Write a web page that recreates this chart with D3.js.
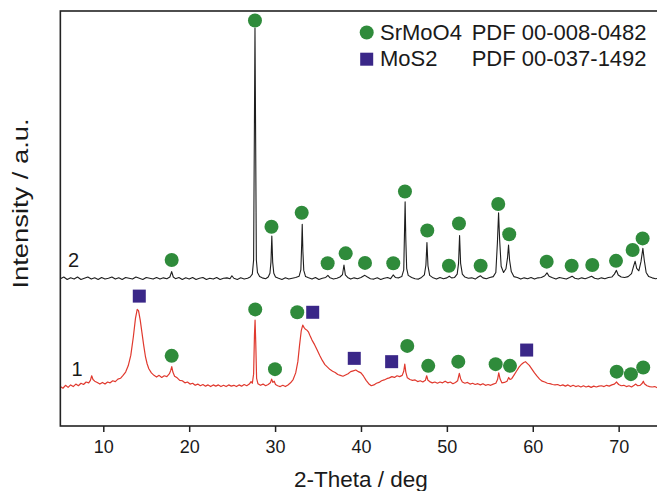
<!DOCTYPE html>
<html>
<head>
<meta charset="utf-8">
<script src="https://cdn.jsdelivr.net/npm/d3@7"></script>
<style>
  html, body { margin: 0; padding: 0; background: #fff; }
  svg { display: block; }
  text { font-family: "Liberation Sans", Arial, Helvetica, sans-serif; fill: #1a1a1a; }
</style>
</head>
<body>
<svg id="chart" width="657" height="491"></svg>
<script>
// XRD patterns: [2-theta (deg), intensity (a.u.)]
const pattern2 = [
  [5.0,35.5],[5.4,35.9],[5.8,35.3],[6.2,35.7],[6.6,35.4],[7.0,35.9],[7.4,35.3],[7.8,35.6],[8.2,35.9],[8.6,35.4],
  [9.0,35.7],[9.4,35.3],[9.8,35.8],[10.2,35.4],[10.6,35.6],[11.0,35.9],[11.4,35.4],[11.8,35.7],[12.2,35.3],[12.6,35.8],
  [13.0,35.6],[13.4,35.4],[13.8,35.9],[14.2,35.6],[14.6,35.3],[15.0,35.8],[15.4,35.6],[15.8,35.4],[16.2,35.8],[16.6,35.4],
  [17.0,35.7],[17.4,35.5],[17.75,35.9],[17.96,37.2],[18.15,35.9],[18.4,35.5],[18.8,35.8],[19.2,35.3],[19.6,35.7],[20.0,35.4],
  [20.4,35.8],[20.8,35.3],[21.2,35.6],[21.6,35.8],[22.0,35.3],[22.4,35.6],[22.8,35.4],[23.2,35.8],[23.6,35.3],[24.0,35.6],
  [24.4,35.7],[24.75,35.5],[24.97,36.2],[25.2,35.6],[25.6,35.3],[26.0,35.7],[26.4,35.4],[26.8,35.6],[27.1,35.9],[27.35,36.6],
  [27.5,40.0],[27.6,75.0],[27.66,95.9],[27.72,75.0],[27.82,40.0],[27.95,37.0],[28.2,36.0],[28.5,35.7],[28.9,35.5],[29.2,35.9],
  [29.4,36.8],[29.52,39.5],[29.62,45.8],[29.72,39.5],[29.85,36.8],[30.05,35.9],[30.4,35.6],[30.8,35.3],[31.2,35.7],[31.6,35.4],
  [32.0,35.6],[32.4,35.8],[32.8,36.1],[33.0,37.6],[33.1,44.0],[33.16,48.6],[33.24,42.0],[33.34,37.5],[33.55,36.0],[33.9,35.7],
  [34.3,35.4],[34.7,35.8],[35.1,35.3],[35.5,35.6],[35.9,35.8],[36.15,36.3],[36.4,35.7],[36.8,35.4],[37.2,35.6],[37.55,35.9],
  [37.85,36.5],[38.02,38.8],[38.18,36.4],[38.45,35.8],[38.8,35.4],[39.2,35.7],[39.6,35.5],[40.0,35.8],[40.45,36.3],[40.75,35.9],
  [41.1,35.5],[41.5,35.4],[41.9,35.7],[42.3,35.3],[42.7,35.6],[43.1,35.8],[43.45,35.5],[43.75,36.4],[44.0,35.8],[44.4,35.7],
  [44.75,36.0],[44.98,37.6],[45.08,48.0],[45.14,54.0],[45.22,45.0],[45.32,38.0],[45.5,36.3],[45.9,35.8],[46.3,35.5],[46.7,35.4],
  [47.05,35.8],[47.38,36.4],[47.56,38.8],[47.68,44.2],[47.8,38.6],[48.0,36.3],[48.4,35.7],[48.8,35.4],[49.2,35.8],[49.6,35.5],
  [50.0,35.7],[50.28,36.1],[50.55,35.7],[50.9,35.8],[51.2,36.6],[51.36,39.2],[51.48,45.9],[51.6,39.2],[51.8,36.6],[52.1,35.9],
  [52.5,35.6],[52.9,35.7],[53.3,35.4],[53.65,35.9],[53.9,36.2],[54.2,35.7],[54.6,35.5],[55.0,35.8],[55.4,36.0],[55.7,37.0],
  [55.88,44.0],[56.02,51.4],[56.14,45.0],[56.32,38.5],[56.6,37.0],[56.88,37.9],[57.06,40.5],[57.18,43.6],[57.3,40.0],[57.5,37.2],
  [57.8,36.0],[58.2,35.8],[58.6,35.4],[59.0,35.7],[59.4,35.5],[59.8,35.8],[60.2,35.4],[60.6,35.7],[61.0,35.8],[61.4,36.2],
  [61.66,36.9],[61.9,36.1],[62.3,35.7],[62.7,35.4],[63.1,35.8],[63.5,35.6],[63.9,35.4],[64.3,35.8],[64.58,36.1],[64.9,35.6],
  [65.3,35.4],[65.7,35.7],[66.1,35.5],[66.5,35.8],[66.85,36.1],[67.2,35.6],[67.6,35.4],[68.0,35.7],[68.4,35.5],[68.8,35.8],
  [69.2,35.9],[69.5,36.6],[69.74,37.5],[69.95,36.4],[70.3,35.9],[70.7,35.8],[71.1,36.0],[71.5,36.7],[71.75,38.6],[71.92,39.7],
  [72.1,38.0],[72.35,37.4],[72.6,39.6],[72.82,42.8],[72.98,40.0],[73.2,37.0],[73.5,36.0],[73.9,35.7],[74.3,35.5],[74.7,35.6],
  [75.0,35.5]
];

const pattern1 = [
  [5.0,9.5],[5.3,9.1],[5.6,9.8],[5.9,9.3],[6.2,9.9],[6.5,9.5],[6.8,10.1],[7.1,9.7],[7.4,10.3],[7.7,10.0],
  [8.0,10.6],[8.3,10.4],[8.5,11.0],[8.65,12.1],[8.8,11.2],[9.0,10.8],[9.3,10.5],[9.6,10.1],[9.9,10.5],[10.2,10.1],
  [10.5,10.6],[10.8,10.4],[11.1,10.9],[11.4,10.7],[11.7,11.3],[12.0,11.5],[12.3,12.2],[12.6,13.0],[12.9,14.5],[13.2,17.0],
  [13.5,21.5],[13.75,26.0],[13.95,28.1],[14.1,27.8],[14.3,25.5],[14.5,22.5],[14.7,19.5],[14.9,16.8],[15.1,15.0],[15.3,13.8],
  [15.6,12.8],[15.9,12.2],[16.2,11.8],[16.5,12.2],[16.8,11.7],[17.1,12.1],[17.4,11.9],[17.7,12.6],[17.85,13.4],[17.97,14.3],
  [18.1,13.0],[18.3,12.0],[18.6,11.6],[18.9,11.0],[19.2,10.9],[19.5,10.4],[19.8,10.6],[20.1,10.1],[20.4,10.3],[20.7,9.8],
  [21.0,10.1],[21.3,9.7],[21.6,10.0],[21.9,9.6],[22.2,9.9],[22.5,9.5],[22.8,9.9],[23.1,9.6],[23.4,9.9],[23.7,9.5],
  [24.0,9.8],[24.3,9.5],[24.6,9.9],[24.9,9.6],[25.2,9.8],[25.5,9.5],[25.8,9.9],[26.1,9.6],[26.4,10.0],[26.7,9.7],
  [27.0,10.1],[27.2,10.7],[27.35,10.3],[27.5,12.5],[27.6,22.0],[27.67,25.5],[27.75,20.0],[27.85,11.5],[28.0,10.2],[28.3,9.8],
  [28.6,10.1],[28.9,9.7],[29.2,10.0],[29.45,10.4],[29.6,11.3],[29.75,10.5],[29.9,10.8],[30.05,10.0],[30.3,9.7],[30.6,9.5],
  [30.9,9.8],[31.2,9.5],[31.5,9.9],[31.8,10.4],[32.1,11.2],[32.4,12.8],[32.65,15.5],[32.85,19.5],[33.05,23.0],[33.22,24.3],
  [33.38,23.7],[33.5,23.4],[33.7,23.1],[33.9,22.6],[34.1,21.6],[34.3,20.7],[34.6,19.6],[34.9,18.3],[35.2,17.0],[35.5,15.8],
  [35.8,14.8],[36.1,14.2],[36.4,13.6],[36.7,13.2],[37.0,12.9],[37.3,12.4],[37.6,12.2],[37.9,12.0],[38.2,12.3],[38.5,12.6],
  [38.8,13.1],[39.1,13.3],[39.4,13.5],[39.7,13.1],[40.0,12.8],[40.3,12.0],[40.6,11.0],[40.9,10.2],[41.2,9.7],[41.5,9.9],
  [41.8,10.3],[42.1,10.5],[42.4,10.9],[42.7,11.1],[43.0,11.4],[43.3,11.6],[43.6,11.9],[43.9,11.7],[44.2,12.1],[44.5,11.9],
  [44.8,12.2],[44.98,13.2],[45.1,14.9],[45.22,13.0],[45.4,11.6],[45.7,11.2],[46.0,11.0],[46.3,11.1],[46.6,10.7],[46.9,10.9],
  [47.2,10.6],[47.5,11.0],[47.65,12.1],[47.8,11.0],[48.0,10.7],[48.3,10.4],[48.6,10.6],[48.9,10.3],[49.2,10.6],[49.5,10.4],
  [49.8,10.8],[50.1,10.4],[50.4,10.6],[50.7,10.2],[51.0,10.5],[51.25,10.9],[51.45,12.7],[51.6,11.4],[51.8,10.6],[52.1,10.3],
  [52.4,10.5],[52.7,10.1],[53.0,10.3],[53.3,10.0],[53.6,10.2],[53.9,9.9],[54.2,10.2],[54.5,9.8],[54.8,10.0],[55.1,9.8],
  [55.4,10.1],[55.7,10.3],[55.9,11.2],[56.04,12.8],[56.2,11.3],[56.4,10.4],[56.7,10.5],[57.0,10.8],[57.2,11.7],[57.35,11.2],
  [57.55,11.4],[57.8,12.2],[58.1,13.2],[58.4,14.2],[58.7,14.9],[58.95,15.3],[59.15,15.5],[59.35,15.1],[59.6,14.6],[59.9,13.7],
  [60.2,12.8],[60.5,12.0],[60.8,11.3],[61.1,10.8],[61.4,10.6],[61.7,10.3],[62.0,10.2],[62.3,10.0],[62.6,9.9],[62.9,10.0],
  [63.2,9.7],[63.5,9.9],[63.8,9.6],[64.1,9.9],[64.4,9.5],[64.7,9.8],[65.0,9.5],[65.3,9.7],[65.6,9.4],[65.9,9.7],
  [66.2,9.4],[66.5,9.6],[66.8,9.3],[67.1,9.6],[67.4,9.4],[67.7,9.6],[68.0,9.7],[68.3,9.5],[68.6,9.8],[68.9,9.6],
  [69.2,9.9],[69.5,10.1],[69.76,10.6],[70.0,10.0],[70.3,9.7],[70.6,9.8],[70.9,9.5],[71.2,9.7],[71.5,9.4],[71.8,9.8],
  [72.0,10.1],[72.2,9.7],[72.5,9.8],[72.75,10.3],[72.87,10.8],[73.0,10.2],[73.3,9.7],[73.6,9.5],[73.9,9.4],[74.2,9.5],
  [74.5,9.2],[74.8,9.4],[75.0,9.3]
];

// Phase markers: [2-theta, marker height]
const srmoo4Marks2 = [
  [17.96,40.0],[27.66,97.7],[29.58,48.0],[33.10,51.4],[36.12,39.2],[38.22,41.6],[40.47,39.3],[43.76,39.2],
  [45.12,56.5],[47.72,47.1],[50.24,38.6],[51.41,48.8],[53.93,38.6],[55.98,53.5],[57.26,46.2],[61.62,39.6],
  [64.53,38.6],[66.93,38.8],[69.69,39.8],[71.63,42.4],[72.79,45.2]
];
const srmoo4Marks1 = [
  [17.96,16.9],[27.69,28.1],[29.99,13.7],[32.58,27.4],[45.39,19.3],[47.83,14.5],[51.33,15.5],
  [55.68,14.9],[57.35,14.5],[69.77,13.1],[71.43,12.5],[72.86,14.1]
];
const mos2Marks1 = [
  [14.19,31.3],[34.38,27.4],[39.22,16.3],[43.57,15.5],[59.29,18.3]
];

const xTicks = [10, 20, 30, 40, 50, 60, 70];
const legendItems = [
  { shape: "circle", phase: "SrMoO4", card: "PDF 00-008-0482" },
  { shape: "square", phase: "MoS2", card: "PDF 00-037-1492" }
];
const curveLabels = [
  { text: "2", at: [5.9, 38.3] },
  { text: "1", at: [6.3, 12.0] }
];

const green = "#2f8b3b";
const indigo = "#3a2788";

const svg = d3.select("#chart");
const plot = { left: 60.35, right: 661.6, top: 11, bottom: 426 };

const x = d3.scaleLinear().domain([5, 75]).range([plot.left, plot.right]);
const y = d3.scaleLinear().domain([0, 100]).range([plot.bottom, plot.top]);

// Diffraction traces
const line = d3.line().x(d => x(d[0])).y(d => y(d[1]));
svg.append("path").datum(pattern1)
  .attr("d", line).attr("fill", "none")
  .attr("stroke", "#e0392e").attr("stroke-width", 1.2).attr("stroke-linejoin", "round");
svg.append("path").datum(pattern2)
  .attr("d", line).attr("fill", "none")
  .attr("stroke", "#1e1e1e").attr("stroke-width", 1.1).attr("stroke-linejoin", "round");

// Phase markers
const dotR = 7, sq = 13;
svg.append("g").selectAll("circle")
  .data(srmoo4Marks2.concat(srmoo4Marks1))
  .join("circle")
  .attr("cx", d => x(d[0])).attr("cy", d => y(d[1]))
  .attr("r", dotR).attr("fill", green);
svg.append("g").selectAll("rect")
  .data(mos2Marks1)
  .join("rect")
  .attr("x", d => x(d[0]) - sq / 2).attr("y", d => y(d[1]) - sq / 2)
  .attr("width", sq).attr("height", sq).attr("fill", indigo);

// Frame
svg.append("rect")
  .attr("x", plot.left).attr("y", plot.top)
  .attr("width", plot.right - plot.left).attr("height", plot.bottom - plot.top)
  .attr("fill", "none").attr("stroke", "#222").attr("stroke-width", 1.6);

// Bottom axis
const xAxis = d3.axisBottom(x).tickValues(xTicks).tickSize(6).tickSizeOuter(0).tickPadding(8);
const gx = svg.append("g").attr("transform", `translate(0,${plot.bottom})`).call(xAxis);
gx.select(".domain").remove();
gx.selectAll(".tick line").attr("stroke", "#222").attr("stroke-width", 1.5);
gx.selectAll(".tick text")
  .attr("font-size", 18).attr("fill", "#1a1a1a")
  .style("font-family", "'Liberation Sans', Arial, sans-serif");

// Axis titles
svg.append("text")
  .attr("x", (plot.left + plot.right) / 2).attr("y", 487)
  .attr("text-anchor", "middle").attr("font-size", 22.5)
  .text("2-Theta / deg");
svg.append("text")
  .attr("transform", "translate(28.3,203.5) rotate(-90)")
  .attr("text-anchor", "middle").attr("font-size", 22)
  .attr("textLength", 170).attr("lengthAdjust", "spacingAndGlyphs")
  .text("Intensity / a.u.");

// Trace numbers
svg.append("g").selectAll("text")
  .data(curveLabels)
  .join("text")
  .attr("x", d => x(d.at[0])).attr("y", d => y(d.at[1]))
  .attr("font-size", 20)
  .text(d => d.text);

// Legend
const legend = svg.append("g");
legendItems.forEach((item, i) => {
  const cy = 32.5 + i * 26.7;
  if (item.shape === "circle") {
    legend.append("circle").attr("cx", 366.7).attr("cy", cy).attr("r", dotR).attr("fill", green);
  } else {
    legend.append("rect").attr("x", 366.7 - sq / 2).attr("y", cy - sq / 2)
      .attr("width", sq).attr("height", sq).attr("fill", indigo);
  }
  legend.append("text").attr("x", 380).attr("y", cy + 7)
    .attr("font-size", 22).text(item.phase);
  legend.append("text").attr("x", 471.7).attr("y", cy + 7)
    .attr("font-size", 22).text(item.card);
});
</script>
</body>
</html>
